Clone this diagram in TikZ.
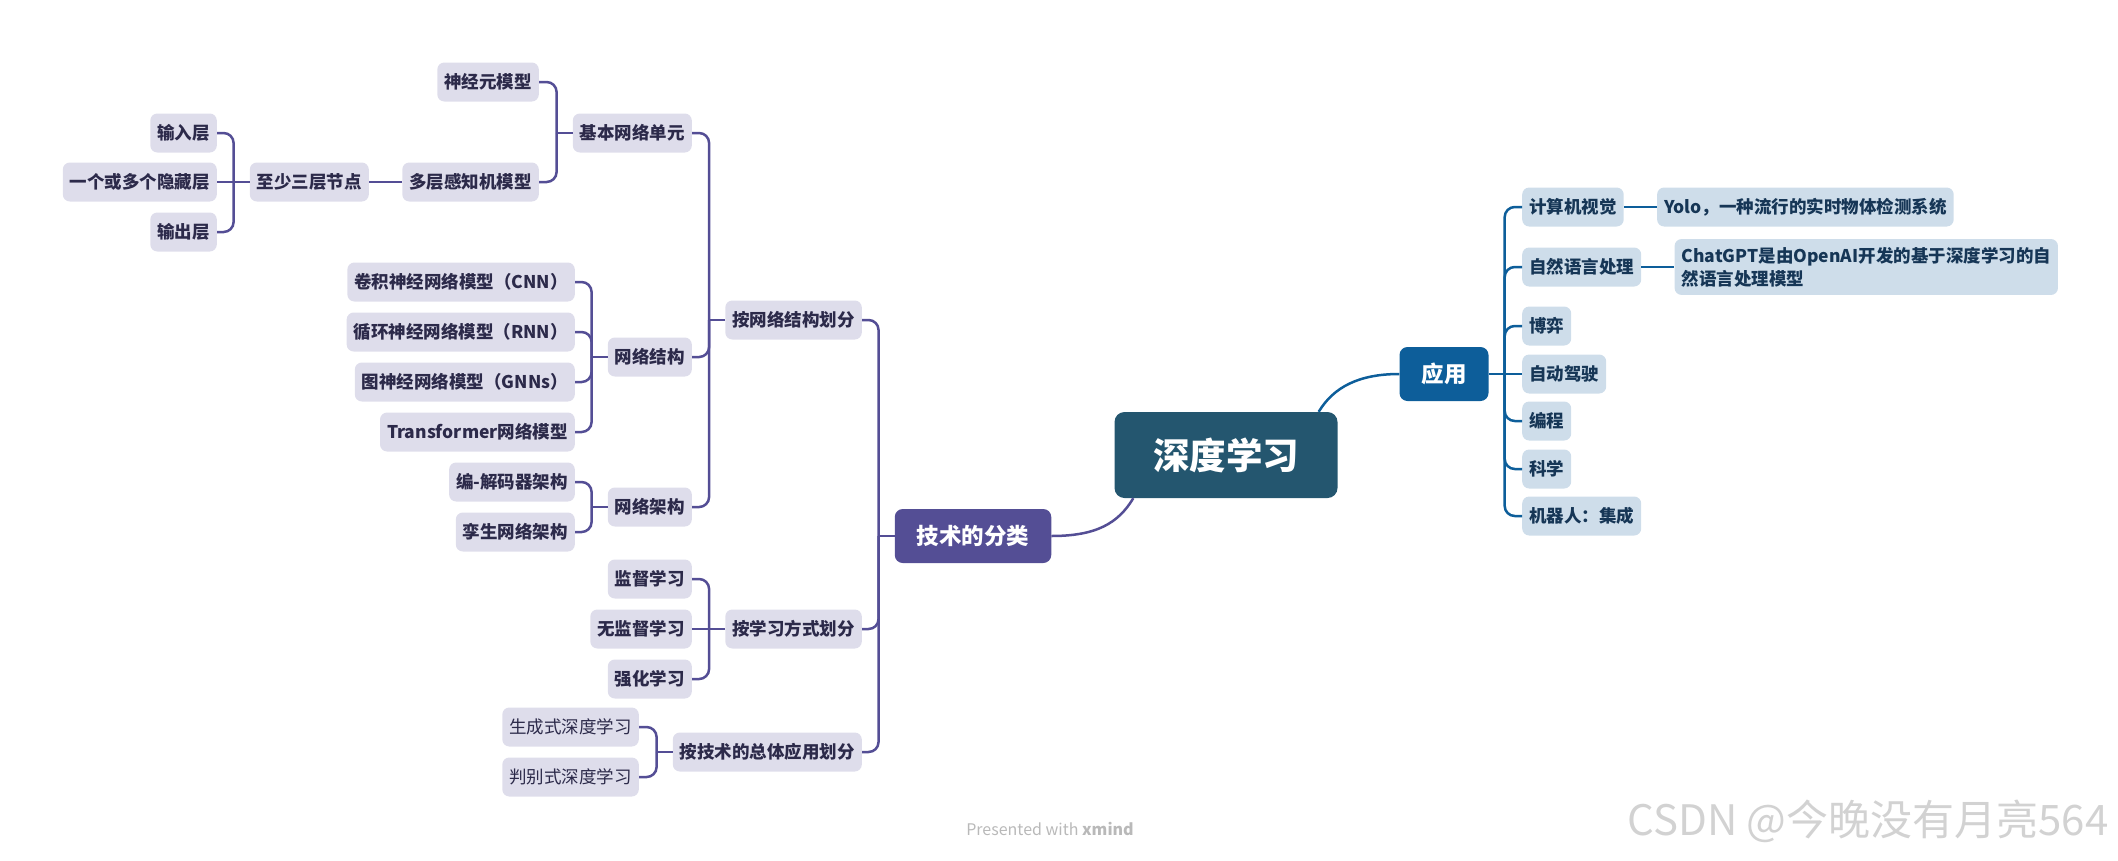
\documentclass[tikz,border=0pt]{standalone}
\usepackage{fontspec}
\setmainfont{Noto Sans CJK SC}
\usetikzlibrary{positioning}
\definecolor{rootc}{HTML}{24566F}
\definecolor{purp}{HTML}{544E95}
\definecolor{lav}{HTML}{DEDDEB}
\definecolor{lavtxt}{HTML}{2C2A4A}
\definecolor{appc}{HTML}{0D5E9A}
\definecolor{lblue}{HTML}{CEDDEA}
\definecolor{btxt}{HTML}{163656}

\begin{document}
\begin{tikzpicture}[x=1pt, y=-1pt,
  root/.style={fill=rootc, text=white, rounded corners=10pt, minimum width=223pt,
               minimum height=86pt, font=\fontsize{36.5}{44}\selectfont\bfseries},
  mainbox/.style={text=white, rounded corners=8pt, minimum height=54pt, inner xsep=22pt,
                  font=\fontsize{22.5}{27}\selectfont\bfseries},
  leaf/.style={fill=lav, text=lavtxt, rounded corners=7pt, minimum height=39pt,
               inner xsep=7pt, inner ysep=3pt, font=\fontsize{17.5}{23}\selectfont\bfseries},
  thin/.style={leaf, font=\fontsize{17.5}{23}\selectfont},
  bleaf/.style={leaf, fill=lblue, text=btxt},
  twig/.style={draw=purp, line width=2.5pt, rounded corners=10pt},
  btwig/.style={twig, draw=appc}]
  \useasboundingbox (0,0) rectangle (2118,860);

  % centre and the two main branches
  \node[root] (root) at (1226,455) {深度学习};
  \node[mainbox, fill=purp] (tech) at (973,536) {技术的分类};
  \node[mainbox, fill=appc] (app) at (1444,374) {应用};
  \coordinate[right=19pt of root.south west] (r1);
  \coordinate[left=19pt of root.north east] (r2);
  \draw[twig] (r1) .. controls +(-15,25) and +(45,0) .. (tech.east);
  \draw[btwig] (r2) .. controls +(15,-25) and +(-40,0) .. (app.west);

  % left: classification
  \node[leaf, anchor=east] (ns) at (862,320) {按网络结构划分};
  \node[leaf, anchor=east] (lm) at (862,629) {按学习方式划分};
  \node[leaf, anchor=east] (ta) at (862,752) {按技术的总体应用划分};

  \node[leaf, anchor=east] (unit) at (692,133) {基本网络单元};
  \node[leaf, anchor=east] (struct) at (692,357) {网络结构};
  \node[leaf, anchor=east] (arch) at (692,507) {网络架构};

  \node[leaf, anchor=east] (neuron) at (539,82) {神经元模型};
  \node[leaf, anchor=east] (mlp) at (539,182) {多层感知机模型};
  \node[leaf, anchor=east] (three) at (369,182) {至少三层节点};
  \node[leaf, anchor=east] (inl) at (217,133) {输入层};
  \node[leaf, anchor=east] (hid) at (217,182) {一个或多个隐藏层};
  \node[leaf, anchor=east] (outl) at (217,232) {输出层};

  \node[leaf, anchor=east] (cnn) at (575,282) {卷积神经网络模型（CNN）};
  \node[leaf, anchor=east] (rnn) at (575,332) {循环神经网络模型（RNN）};
  \node[leaf, anchor=east] (gnn) at (575,382) {图神经网络模型（GNNs）};
  \node[leaf, anchor=east] (tf) at (575,432) {Transformer网络模型};
  \node[leaf, anchor=east] (ed) at (575,482) {编-解码器架构};
  \node[leaf, anchor=east] (sia) at (575,532) {孪生网络架构};

  \node[leaf, anchor=east] (sl) at (692,579) {监督学习};
  \node[leaf, anchor=east] (usl) at (692,629) {无监督学习};
  \node[leaf, anchor=east] (rl) at (692,679) {强化学习};
  \node[thin, anchor=east] (gen) at (639,727) {生成式深度学习};
  \node[thin, anchor=east] (dis) at (639,777) {判别式深度学习};

  % brackets
  \foreach \p/\kids in {tech/{ns,lm,ta}, ns/{unit,struct,arch}, unit/{neuron,mlp},
                        three/{inl,outl}, struct/{cnn,rnn,gnn,tf}, arch/{ed,sia},
                        lm/{sl,rl}, ta/{gen,dis}} {
    \coordinate[left=16pt of \p.west] (j\p);
    \draw[twig] (\p.west) -- (j\p);
    \foreach \c in \kids
      \draw[twig] (j\p) |- (\c.east);
  }
  \draw[twig] (mlp.west) -- (three.east);
  \draw[twig] (jthree) -- (hid.east);
  \draw[twig] (jlm) -- (usl.east);

  % right: applications
  \node[bleaf, anchor=west] (cv) at (1522,207) {计算机视觉};
  \node[bleaf, anchor=west] (nlp) at (1522,267) {自然语言处理};
  \node[bleaf, anchor=west] (game) at (1522,326) {博弈};
  \node[bleaf, anchor=west] (drive) at (1522,374) {自动驾驶};
  \node[bleaf, anchor=west] (code) at (1522,421) {编程};
  \node[bleaf, anchor=west] (sci) at (1522,469) {科学};
  \node[bleaf, anchor=west] (robot) at (1522,516) {机器人：集成};
  \node[bleaf, right=33pt of cv] (yolo) {Yolo，一种流行的实时物体检测系统};
  \node[bleaf, right=33pt of nlp, align=left, inner ysep=8pt]
    (gpt) {ChatGPT是由OpenAI开发的基于深度学习的自\\然语言处理模型};

  \coordinate[right=16pt of app.east] (japp);
  \draw[btwig] (app.east) -- (japp);
  \foreach \c in {cv,nlp,game,code,sci,robot}
    \draw[btwig] (japp) |- (\c.west);
  \draw[btwig] (japp) -- (drive.west);
  \draw[btwig] (cv.east) -- (yolo.west);
  \draw[btwig] (nlp.east) -- (gpt.west);

  % watermarks
  \node[text=gray!55, font=\fontsize{16}{19}\selectfont] (xm) at (1050,829)
    {Presented with \textbf{xmind}};
  \node[text=gray!35, anchor=east, font=\fontsize{42}{50}\selectfont] (csdn) at (2112,821)
    {CSDN @今晚没有月亮564};
\end{tikzpicture}
\end{document}
